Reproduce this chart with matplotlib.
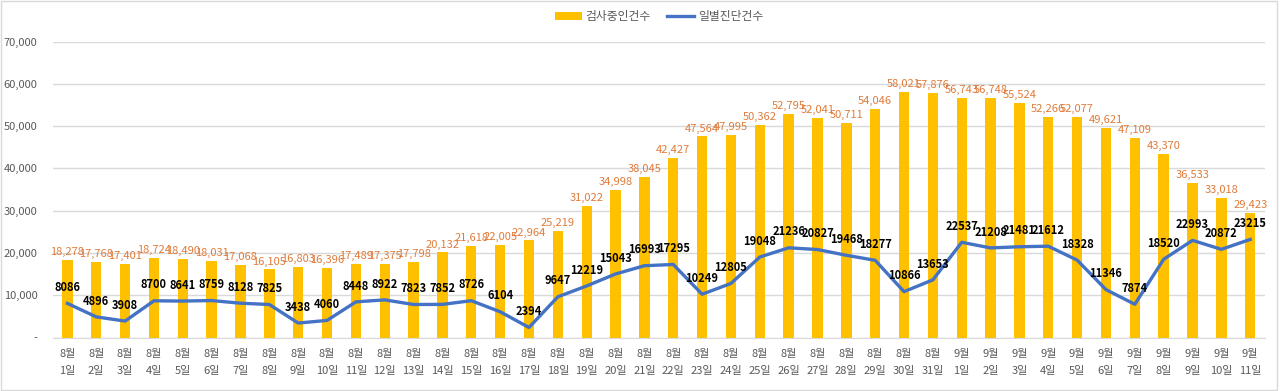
import matplotlib
matplotlib.use('Agg')
import matplotlib.pyplot as plt
from matplotlib.patches import Rectangle

plt.rcParams['font.family'] = ['Noto Sans CJK KR', 'DejaVu Sans']

# data
days = [f"8월\n{d}일" for d in range(1, 32)] + [f"9월\n{d}일" for d in range(1, 12)]
tests = [18278, 17768, 17401, 18724, 18490, 18031, 17068, 16105, 16803, 16396,
         17489, 17375, 17798, 20132, 21618, 22005, 22964, 25219, 31022, 34998,
         38045, 42427, 47564, 47995, 50362, 52795, 52041, 50711, 54046, 58021,
         57876, 56743, 56748, 55524, 52266, 52077, 49621, 47109, 43370, 36533,
         33018, 29423]
cases = [8086, 4896, 3908, 8700, 8641, 8759, 8128, 7825, 3438, 4060,
         8448, 8922, 7823, 7852, 8726, 6104, 2394, 9647, 12219, 15043,
         16993, 17295, 10249, 12805, 19048, 21236, 20827, 19468, 18277, 10866,
         13653, 22537, 21208, 21481, 21612, 18328, 11346, 7874, 18520, 22993,
         20872, 23215]
yticks = [0, 10000, 20000, 30000, 40000, 50000, 60000, 70000]

fig = plt.figure(figsize=(12.8, 3.91), dpi=100)
ax = fig.add_axes([0.0414, 0.1366, 0.9466, 0.757])

x = list(range(len(days)))
b = ax.bar(x, tests, width=0.36, color='#FFC000', label='검사중인건수', zorder=2)
l, = ax.plot(x, cases, color='#4472C4', lw=2.4, label='일별진단건수', zorder=3)

for i in x:
    ax.text(i, tests[i] + 700, f"{tests[i]:,}", ha='center', va='bottom',
            fontsize=8, color='#E07B39', zorder=4)
    ax.text(i, cases[i] + 2200, str(cases[i]), ha='center', va='bottom',
            fontsize=8, color='black', fontweight='bold', zorder=4)

ax.set_xlim(-0.5, len(days) - 0.5)
ax.set_ylim(0, 70000)
ax.set_yticks(yticks)
ax.set_yticklabels(['-' if v == 0 else f"{v:,}" for v in yticks])
ax.set_xticks(x)
ax.set_xticklabels(days, linespacing=1.9)
ax.tick_params(axis='both', length=0, labelsize=8, colors='#595959')
ax.tick_params(axis='y', pad=11)
ax.tick_params(axis='x', pad=8)
ax.grid(axis='y', color='#D9D9D9', lw=1, zorder=0)
for s in ['top', 'right', 'left']:
    ax.spines[s].set_visible(False)
ax.spines['bottom'].set_color('#D9D9D9')

ax.legend([b, l], ['검사중인건수', '일별진단건수'], loc='center',
          bbox_to_anchor=(0.5, 1.084), ncol=2, frameon=False,
          fontsize=8.5, handlelength=2.3, handleheight=0.6, handletextpad=0.3,
          columnspacing=1.4, labelcolor='#595959')

fig.patches.append(Rectangle((0.001, 0.002), 0.997, 0.996, transform=fig.transFigure,
                             fill=False, edgecolor='#D9D9D9', lw=1))

fig.savefig('out.png', dpi=100)
